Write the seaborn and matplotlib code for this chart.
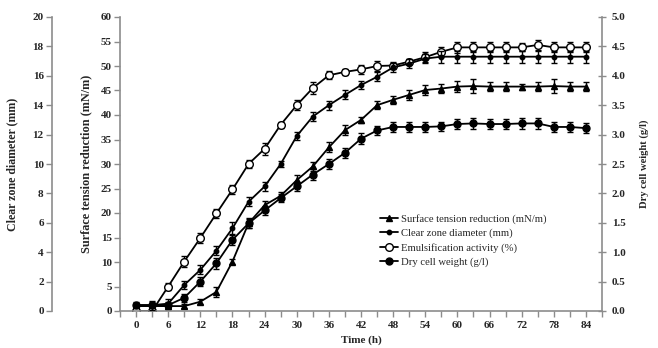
import numpy as np
import pandas as pd
import matplotlib
matplotlib.use("Agg")
import matplotlib.pyplot as plt
from matplotlib.lines import Line2D
from matplotlib.ticker import MultipleLocator, FormatStrFormatter
import seaborn as sns

# ---------------- data ----------------
time_h = [0, 3, 6, 9, 12, 15, 18, 21, 24, 27, 30, 33, 36, 39, 42, 45, 48, 51, 54,
          57, 60, 63, 66, 69, 72, 75, 78, 81, 84]

surface_tension = [1.0, 1.0, 1.0, 1.0, 1.9, 3.9, 10.1, 17.9, 21.6, 23.5, 26.7, 29.5,
                   33.4, 36.9, 39.0, 42.0, 43.1, 44.1, 45.1, 45.4, 45.8, 45.9, 45.8,
                   45.8, 45.8, 45.8, 45.9, 45.8, 45.8]
surface_err = [0.4, 0.4, 0.4, 0.4, 0.5, 1.0, 0.6, 1.0, 0.8, 0.8, 1.0, 1.0, 1.0, 1.0,
               0.6, 0.8, 0.8, 1.0, 1.0, 1.0, 1.2, 1.4, 1.0, 1.0, 0.6, 1.0, 1.4, 1.0, 1.0]

clear_zone = [0.4, 0.4, 0.5, 1.77, 2.8, 4.1, 5.63, 7.43, 8.47, 10.0, 11.9, 13.23, 14.0,
              14.7, 15.37, 15.93, 16.57, 16.83, 17.17, 17.3, 17.3, 17.3, 17.3, 17.3,
              17.3, 17.3, 17.3, 17.3, 17.3]
clear_err = [0.2, 0.3, 0.3, 0.3, 0.3, 0.3, 0.4, 0.3, 0.3, 0.2, 0.3, 0.3, 0.3, 0.3, 0.3,
             0.3, 0.3, 0.3, 0.3, 0.4, 0.4, 0.4, 0.4, 0.4, 0.4, 0.4, 0.4, 0.4, 0.4]

emulsification = [0.0, 0.0, 5.0, 10.1, 14.9, 19.9, 24.8, 30.0, 33.1, 38.0, 42.0, 45.5,
                  48.1, 48.8, 49.3, 50.0, 50.1, 50.9, 51.8, 52.9, 53.8, 53.8, 53.8,
                  53.8, 53.8, 54.3, 53.8, 53.8, 53.8]
emul_err = [0.3, 0.3, 0.8, 1.2, 1.0, 1.0, 1.0, 0.8, 1.2, 0.6, 1.0, 1.2, 0.8, 0.6, 1.0,
            1.0, 0.8, 0.6, 1.0, 1.0, 1.2, 1.0, 1.0, 1.0, 0.8, 1.0, 1.0, 1.0, 1.0]

dry_cell = [0.1, 0.1, 0.1, 0.225, 0.5, 0.81, 1.21, 1.49, 1.71, 1.92, 2.12, 2.32, 2.5,
            2.69, 2.93, 3.07, 3.13, 3.13, 3.13, 3.14, 3.18, 3.19, 3.18, 3.18, 3.19,
            3.19, 3.13, 3.13, 3.11]
dry_err = [0.03, 0.05, 0.06, 0.07, 0.08, 0.09, 0.09, 0.08, 0.08, 0.07, 0.08, 0.09, 0.09,
           0.09, 0.09, 0.08, 0.09, 0.09, 0.09, 0.08, 0.08, 0.09, 0.09, 0.08, 0.09, 0.09,
           0.08, 0.08, 0.08]

legend_labels = ["Surface tension reduction (mN/m)", "Clear zone diameter (mm)",
                 "Emulsification activity (%)", "Dry cell weight (g/l)"]
x_ticks = list(range(0, 85, 6))

# ---------------- style ----------------
sns.set_style("white")
plt.rcParams["font.family"] = ["Liberation Serif", "DejaVu Serif"]

df = pd.DataFrame({"time": time_h, "st": surface_tension, "cz": clear_zone,
                   "ea": emulsification, "dcw": dry_cell})

fig = plt.figure(figsize=(6.58, 3.48), dpi=100)
ax = fig.add_axes([120 / 658, 1 - 311 / 348, 482 / 658, 294 / 348])
ax_cz = ax.twinx()
ax_dw = ax.twinx()

grey = "#8c8c8c"
lw = 1.3

def draw(a, col, err, marker, ms, mfc):
    sns.lineplot(data=df, x="time", y=col, ax=a, color="black", lw=lw,
                 marker=marker, markersize=ms, markerfacecolor=mfc,
                 markeredgecolor="black", markeredgewidth=1.0, legend=False)
    a.errorbar(df["time"], df[col], yerr=err, fmt="none", ecolor="black",
               elinewidth=1.0, capsize=2, capthick=1.0, zorder=1)

draw(ax_dw, "dcw", dry_err, "o", 5, "black")
draw(ax, "st", surface_err, "^", 4.5, "black")
draw(ax_cz, "cz", clear_err, "o", 3.2, "black")
draw(ax, "ea", emul_err, "o", 5.5, "white")
for a in (ax, ax_cz, ax_dw):
    a.set_xlim(-3, 87)
    a.set_xlabel("")
    a.set_ylabel("")

ax.set_ylim(0, 60)
ax_cz.set_ylim(0, 20)
ax_dw.set_ylim(0, 5)

# spines
for a in (ax, ax_cz, ax_dw):
    for s in a.spines.values():
        s.set_visible(False)
ax.spines["bottom"].set_visible(True)
ax.spines["left"].set_visible(True)
ax_dw.spines["right"].set_visible(True)
ax_cz.spines["left"].set_visible(True)
ax_cz.spines["left"].set_position(("axes", (52 - 120) / 482))
for s in (ax.spines["bottom"], ax.spines["left"], ax_dw.spines["right"], ax_cz.spines["left"]):
    s.set_color(grey)
    s.set_linewidth(1.2)

fs = 8

ax.set_xticks(x_ticks)
ax.xaxis.set_minor_locator(MultipleLocator(3))
ax.tick_params(axis="x", which="both", direction="out", length=4, width=1,
               color=grey, bottom=True, labelsize=fs, pad=3)
ax.set_yticks(np.arange(0, 61, 5))
ax.tick_params(axis="y", which="major", direction="out", length=4, width=1,
               color=grey, left=True, labelsize=fs, pad=2)

ax_cz.yaxis.set_ticks_position("left")
ax_cz.yaxis.set_label_position("left")
ax_cz.set_yticks(np.arange(0, 21, 2))
ax_cz.tick_params(axis="y", direction="out", length=4, width=1, color=grey,
                  left=True, right=False, labelleft=True, labelright=False,
                  labelsize=fs, pad=2)

ax_dw.set_yticks(np.arange(0, 5.01, 0.5))
ax_dw.yaxis.set_major_formatter(FormatStrFormatter("%.1f"))
ax_dw.tick_params(axis="y", direction="inout", length=6, width=1, color=grey,
                  right=True, labelsize=fs, pad=4)

for a in (ax, ax_cz, ax_dw):
    for lab in a.get_xticklabels() + a.get_yticklabels():
        lab.set_fontweight("bold")

ax.set_xlabel("Time (h)", fontsize=8, fontweight="bold", labelpad=4)
ax.set_ylabel("Surface tension reduction (mN/m)", fontsize=8.8, fontweight="bold",
              labelpad=6)
ax_cz.set_ylabel("Clear zone diameter (mm)", fontsize=8.6, fontweight="bold",
                 labelpad=10)
ax_dw.set_ylabel("Dry cell weight (g/l)", fontsize=7.6, fontweight="bold",
                 labelpad=10)

handles = [
    Line2D([], [], color="black", lw=lw, marker="^", markersize=4.5,
           markerfacecolor="black"),
    Line2D([], [], color="black", lw=lw, marker="o", markersize=3.2,
           markerfacecolor="black"),
    Line2D([], [], color="black", lw=lw, marker="o", markersize=5.5,
           markerfacecolor="white", markeredgecolor="black"),
    Line2D([], [], color="black", lw=lw, marker="o", markersize=5,
           markerfacecolor="black"),
]
ax_dw.legend(handles, legend_labels, loc="upper left",
             bbox_to_anchor=(380 / 658, 1 - 214 / 348), bbox_transform=fig.transFigure,
             frameon=False, fontsize=7.7, handlelength=1.7, handletextpad=0.25,
             labelspacing=0.42, borderaxespad=0, borderpad=0)

fig.savefig("out.png", dpi=100)
